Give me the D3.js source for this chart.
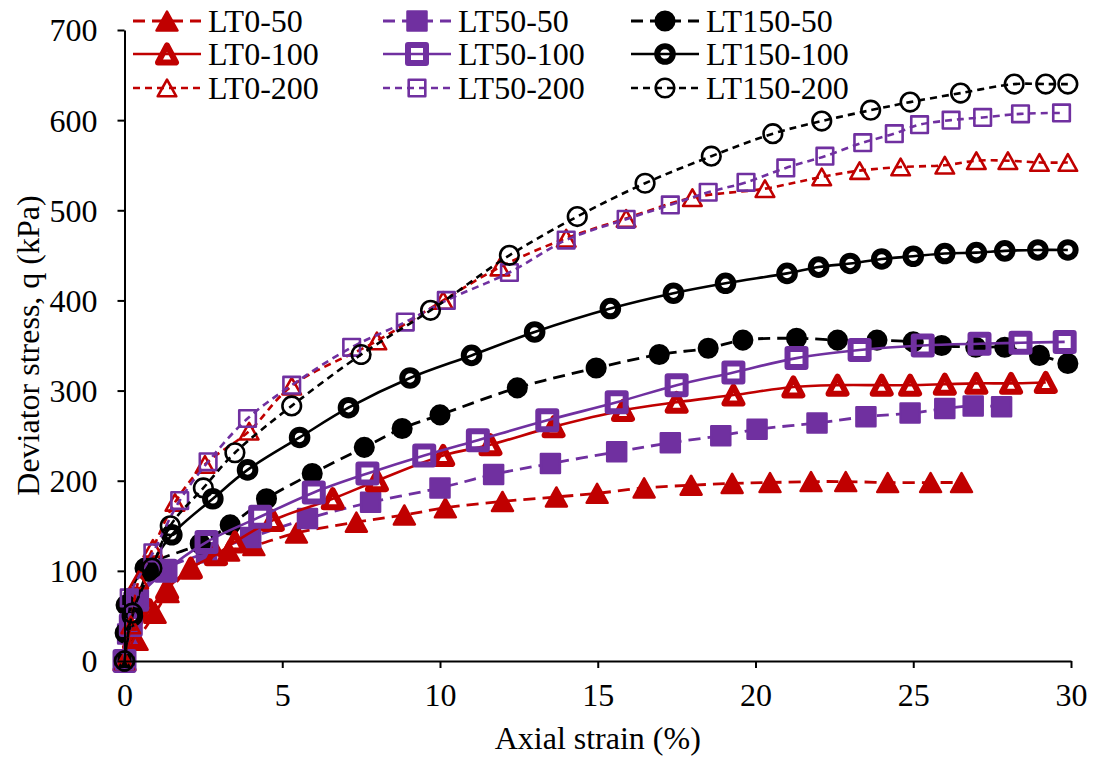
<!DOCTYPE html>
<html>
<head>
<meta charset="utf-8">
<script src="https://cdn.jsdelivr.net/npm/d3@7"></script>
<style>
  html, body { margin: 0; padding: 0; background: #fff; }
  svg { display: block; }
  text { font-family: "Liberation Serif", "Times New Roman", serif; fill: #000; }
</style>
</head>
<body>
<svg id="chart" width="1093" height="758"></svg>
<script>
// Axial strain (%) / deviator stress q (kPa) pairs for each test
const LT0_50 = [[0,0],[0.4,23],[0.97,53],[1.38,76],[2.1,103],[3.3,122],[4.1,128],[5.45,142],[7.35,154],[8.87,162],[10.17,170],[11.98,177],[13.69,182],[14.98,186],[16.47,192],[17.96,195],[19.26,197],[20.46,198],[21.76,199],[22.86,199],[24.19,198],[25.55,198],[26.53,198]];
const LT0_100 = [[0,0],[0.3,25],[0.8,57],[1.35,80],[2.1,103],[2.9,118],[3.5,132],[4.7,156],[6.6,180],[8.0,200],[10.1,228],[11.6,240],[13.6,260],[15.8,278],[17.5,287],[19.3,295],[21.2,304],[22.6,306],[24.0,306],[24.9,306],[26.0,307],[27.0,308],[28.1,308],[29.2,309]];
const LT0_200 = [[0,0],[0.2,40],[0.45,90],[0.9,125],[1.6,176],[2.55,218],[3.95,255],[5.3,305],[8.0,355],[10.1,400],[11.9,437],[14.0,469],[15.9,491],[18.0,514],[20.3,524],[22.1,537],[23.3,544],[24.6,548],[26.0,550],[27.0,555],[28.0,555],[29.0,553],[29.9,553]];
const LT50_50 = [[0,0],[0.1,30],[0.3,65],[1.2,100],[2.6,120],[4.0,137],[5.8,158],[7.8,176],[10.0,192],[11.7,207],[13.5,219],[15.6,232],[17.3,242],[18.9,250],[20.05,257],[21.95,264],[23.5,271],[24.9,275],[26.0,280],[26.9,283],[27.8,282]];
const LT50_100 = [[0,0],[0.2,40],[0.4,68],[1.3,100],[2.6,132],[4.3,160],[6.0,187],[7.7,208],[9.5,228],[11.2,245],[13.4,267],[15.6,287],[17.5,306],[19.3,320],[21.3,336],[23.3,345],[25.3,350],[27.1,352],[28.4,353],[29.8,354]];
const LT50_200 = [[0,0],[0.15,70],[0.9,120],[1.75,178],[2.65,221],[3.9,269],[5.3,306],[7.2,348],[8.9,376],[10.2,400],[12.2,431],[14.0,467],[15.9,490],[17.3,506],[18.5,520],[19.7,531],[20.96,547],[22.2,560],[23.4,575],[24.4,585],[25.2,595],[26.2,600],[27.2,603],[28.4,607],[29.7,608]];
const LT150_50 = [[0,0],[0.02,31],[0.05,62],[0.65,103],[2.4,130],[3.35,151],[4.5,180],[5.95,208],[7.6,237],[8.8,258],[10.0,273],[12.45,303],[14.95,325],[16.95,340],[18.5,347],[19.6,356],[21.3,358],[22.6,356],[23.85,356],[25.0,354],[25.9,350],[26.98,348],[27.9,348],[29.0,339],[29.9,330]];
const LT150_100 = [[0,0],[0.25,50],[0.75,100],[1.5,140],[2.8,180],[3.9,212],[5.55,248],[7.1,281],[9.05,314],[11.0,339],[13.0,365],[15.4,391],[17.4,408],[19.05,419],[21.0,430],[22.0,437],[23.0,441],[24.0,446],[25.0,449],[26.0,452],[27.0,453],[27.9,455],[28.95,456],[29.9,456]];
const LT150_200 = [[0,0],[0.25,53],[0.87,103],[1.45,150],[2.5,192],[3.5,231],[5.3,283],[7.5,340],[9.7,389],[12.2,450],[14.35,493],[16.5,530],[18.6,560],[20.55,585],[22.1,599],[23.65,611],[24.9,620],[26.5,630],[28.2,640],[29.2,640],[29.9,640]];

const seriesNames = ["LT0-50","LT50-50","LT150-50","LT0-100","LT50-100","LT150-100","LT0-200","LT50-200","LT150-200"];
const seriesData  = [LT0_50, LT50_50, LT150_50, LT0_100, LT50_100, LT150_100, LT0_200, LT50_200, LT150_200];

const xTicks = [0, 5, 10, 15, 20, 25, 30];
const yTicks = [0, 100, 200, 300, 400, 500, 600, 700];
const xLabel = "Axial strain (%)";
const yLabel = "Deviator stress, q (kPa)";

// Visual style per family (shape / colour) and per confining level (line, marker fill)
const RED = "#C00000", PURPLE = "#7030A0", BLACK = "#000000";
const familyStyle = {
  "LT0":   { color: RED,    shape: "triangle" },
  "LT50":  { color: PURPLE, shape: "square" },
  "LT150": { color: BLACK,  shape: "circle" }
};
const levelStyle = {
  "50":  { dash: "12,7", width: 2.8, filled: true,  mstroke: 2.5 },
  "100": { dash: null,   width: 2.6, filled: false, mstroke: 6 },
  "200": { dash: "7,5",  width: 2.6, filled: false, mstroke: 2.6 }
};

const svg = d3.select("#chart");
svg.append("rect").attr("width", 1093).attr("height", 758).attr("fill", "#fff");

const x = d3.scaleLinear().domain([0, 30]).range([124.5, 1071]);
const y = d3.scaleLinear().domain([0, 700]).range([661, 30]);

// Marker path centred on (0,0)
function markerPath(shape, level) {
  const p = d3.path();
  if (shape === "circle") {
    const r = level === "100" ? 7.8 : 9.3;
    p.arc(0, 0, r, 0, 2 * Math.PI);
  } else if (shape === "square") {
    const h = level === "100" ? 9 : (level === "50" ? 9.5 : 8.3);
    p.rect(-h, -h, 2 * h, 2 * h);
  } else {
    const w = level === "100" ? 9 : (level === "50" ? 10.5 : 9.3);
    const hh = level === "100" ? 8.5 : (level === "50" ? 9.5 : 8.3);
    p.moveTo(0, -hh); p.lineTo(w, hh); p.lineTo(-w, hh); p.closePath();
  }
  return p.toString();
}

const line = d3.line().x(d => x(d[0])).y(d => y(d[1])).curve(d3.curveCatmullRom.alpha(0.5));

const plot = svg.append("g");

function styleOf(name) {
  const [fam, lev] = name.split("-");
  return { fam: familyStyle[fam], lev: levelStyle[lev], level: lev };
}

seriesNames.forEach((name, i) => {
  const st = styleOf(name);
  const g = plot.append("g");
  g.append("path")
    .attr("d", line(seriesData[i]))
    .attr("fill", "none")
    .attr("stroke", st.fam.color)
    .attr("stroke-width", st.lev.width)
    .attr("stroke-dasharray", st.lev.dash);
  g.selectAll("path.m").data(seriesData[i]).join("path")
    .attr("class", "m")
    .attr("transform", d => `translate(${x(d[0])},${y(d[1])})`)
    .attr("d", markerPath(st.fam.shape, st.level))
    .attr("fill", st.lev.filled ? st.fam.color : "none")
    .attr("stroke", st.fam.color)
    .attr("stroke-width", st.lev.mstroke)
    .attr("stroke-linejoin", "round");
});

// Axes
const fs = 32;
const xAxis = svg.append("g").attr("transform", `translate(0,${y(0)})`)
  .call(d3.axisBottom(x).tickValues(xTicks).tickSize(7).tickPadding(15).tickSizeOuter(0));
const yAxis = svg.append("g").attr("transform", `translate(${x(0)},0)`)
  .call(d3.axisLeft(y).tickValues(yTicks).tickSize(7).tickPadding(20).tickSizeOuter(0));
[xAxis, yAxis].forEach(a => {
  a.selectAll("path.domain").attr("stroke", "#000").attr("stroke-width", 2);
  a.selectAll(".tick line").attr("stroke", "#000").attr("stroke-width", 2);
  a.selectAll(".tick text").attr("font-size", fs).attr("font-family", "Liberation Serif").attr("fill", "#000");
});
yAxis.selectAll(".tick text").attr("dy", "0.34em");

svg.append("text")
  .attr("x", (x(0) + x(30)) / 2).attr("y", 749)
  .attr("text-anchor", "middle").attr("font-size", fs)
  .text(xLabel);
svg.append("text")
  .attr("transform", `translate(39,${(y(0) + y(700)) / 2}) rotate(-90)`)
  .attr("text-anchor", "middle").attr("font-size", fs)
  .text(yLabel);

// Legend: three columns, filled row by row
const legCols = [133, 383, 631];
const legRows = [21, 54, 88];
const legend = svg.append("g");
seriesNames.forEach((name, i) => {
  const st = styleOf(name);
  const cx = legCols[i % 3], cy = legRows[Math.floor(i / 3)];
  const g = legend.append("g").attr("transform", `translate(${cx},${cy})`);
  g.append("line").attr("x1", 0).attr("x2", 68).attr("y1", 0).attr("y2", 0)
    .attr("stroke", st.fam.color).attr("stroke-width", st.lev.width)
    .attr("stroke-dasharray", st.lev.dash);
  g.append("path").attr("transform", "translate(34,0)")
    .attr("d", markerPath(st.fam.shape, st.level))
    .attr("fill", st.lev.filled ? st.fam.color : "none")
    .attr("stroke", st.fam.color).attr("stroke-width", st.lev.mstroke)
    .attr("stroke-linejoin", "round");
  g.append("text").attr("x", 75).attr("y", 0).attr("dy", "0.35em")
    .attr("font-size", fs).text(name);
});
</script>
</body>
</html>
